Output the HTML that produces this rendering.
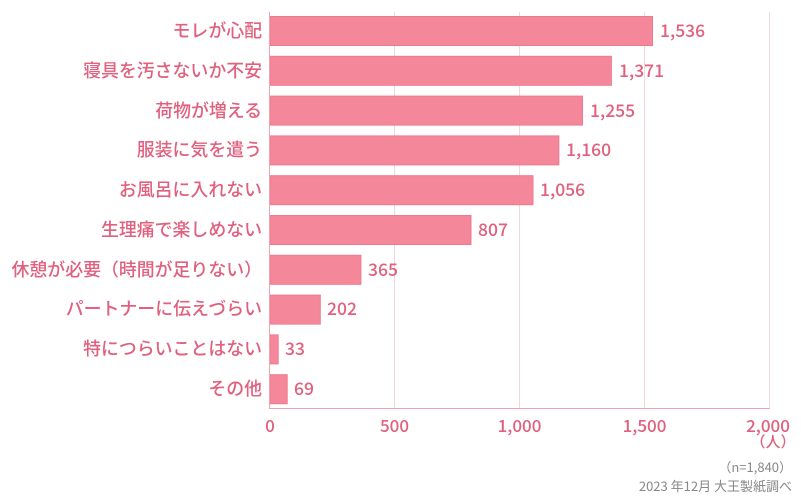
<!DOCTYPE html>
<html><head><meta charset="utf-8"><style>
body{margin:0;background:#fff;}
svg{display:block;font-family:"Noto Sans CJK JP","Liberation Sans",sans-serif;}
</style></head><body>
<svg width="801" height="499" viewBox="0 0 801 499">
<g stroke="#f3d6dc" stroke-width="1">
<line x1="394.5" y1="12" x2="394.5" y2="408"/>
<line x1="519.5" y1="12" x2="519.5" y2="408"/>
<line x1="644.5" y1="12" x2="644.5" y2="408"/>
<line x1="769.5" y1="12" x2="769.5" y2="408"/>
</g>
<g fill="#f5879a" stroke="#ee7a90" stroke-width="1">
<rect x="270" y="16.5" width="382.5" height="29"/>
<rect x="270" y="56.3" width="341.4" height="29"/>
<rect x="270" y="96.1" width="312.5" height="29"/>
<rect x="270" y="135.9" width="288.8" height="29"/>
<rect x="270" y="175.7" width="263" height="29"/>
<rect x="270" y="215.5" width="201" height="29"/>
<rect x="270" y="255.3" width="90.9" height="29"/>
<rect x="270" y="295.1" width="50.3" height="29"/>
<rect x="270" y="334.9" width="8.2" height="29"/>
<rect x="270" y="374.7" width="17.2" height="29"/>
</g>
<line x1="269.5" y1="12" x2="269.5" y2="408.5" stroke="#f0a3b2"/>
<line x1="269" y1="408.5" x2="770" y2="408.5" stroke="#f0a3b2"/>
<g fill="#e0607e" font-size="17.9" font-weight="500" text-anchor="end">
<text x="262" y="37">モレが心配</text>
<text x="262" y="77">寝具を汚さないか不安</text>
<text x="262" y="117">荷物が増える</text>
<text x="262" y="156">服装に気を遣う</text>
<text x="262" y="196">お風呂に入れない</text>
<text x="262" y="236">生理痛で楽しめない</text>
<text x="262" y="276">休憩が必要（時間が足りない）</text>
<text x="262" y="315">パートナーに伝えづらい</text>
<text x="262" y="355">特につらいことはない</text>
<text x="262" y="395">その他</text>
</g>
<g fill="#e0607e" font-size="17.5" font-weight="500">
<text x="660" y="37">1,536</text>
<text x="619" y="77">1,371</text>
<text x="590" y="117">1,255</text>
<text x="566" y="156">1,160</text>
<text x="540" y="196">1,056</text>
<text x="478" y="236">807</text>
<text x="368" y="276">365</text>
<text x="327" y="315">202</text>
<text x="285" y="355">33</text>
<text x="294" y="395">69</text>
</g>
<g fill="#e0607e" font-size="17" font-weight="500" text-anchor="middle">
<text x="270" y="432">0</text>
<text x="394.5" y="432">500</text>
<text x="519.5" y="432">1,000</text>
<text x="644.5" y="432">1,500</text>
<text x="768" y="432">2,000</text>
<text x="773" y="447" font-size="15">（人）</text>
</g>
<g fill="#888" font-size="13" text-anchor="end">
<text x="792" y="472">（n=1,840）</text>
<text x="792" y="491">2023 年12月 大王製紙調べ</text>
</g>
</svg>
</body></html>
